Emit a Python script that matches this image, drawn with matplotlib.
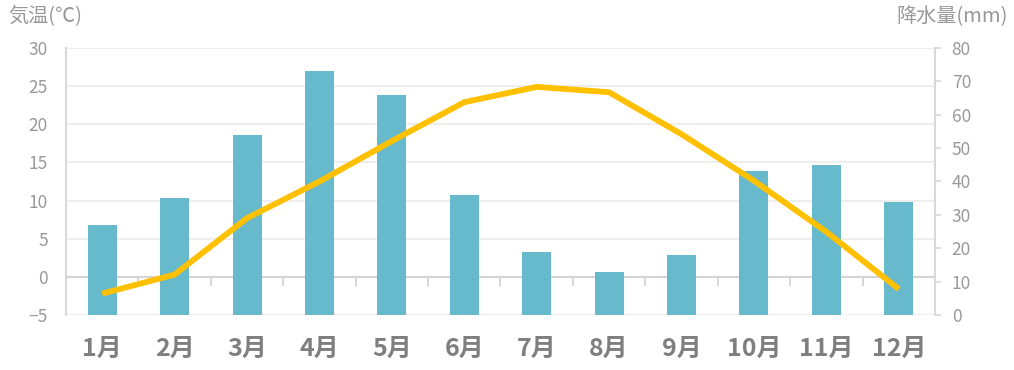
import numpy as np
import matplotlib
matplotlib.use("Agg")
import matplotlib.pyplot as plt

plt.rcParams['font.family'] = ['Noto Sans CJK JP', 'DejaVu Sans']

# data
months = ["1月", "2月", "3月", "4月", "5月", "6月",
          "7月", "8月", "9月", "10月", "11月", "12月"]
temperature = [-2.2, 0.3, 7.7, 12.5, 17.8, 22.9, 24.9, 24.2, 18.7, 12.6, 5.9, -1.6]
precipitation = [27, 35, 54, 73, 66, 36, 19, 13, 18, 43, 45, 34]

temp_ticks = [-5, 0, 5, 10, 15, 20, 25, 30]
prec_ticks = [0, 10, 20, 30, 40, 50, 60, 70, 80]

BAR_COLOR = "#67b9cc"
LINE_COLOR = "#ffc000"
TICK_GRAY = "#999999"
LABEL_GRAY = "#7f7f7f"

fig = plt.figure(figsize=(10.14, 3.70), dpi=100)
ax = fig.add_axes([66 / 1014, 1 - 315 / 370, (935 - 66) / 1014, (315 - 48) / 370])
ax2 = ax.twinx()

x = np.arange(len(months))

# temperature axis (left) with grid
ax.set_xlim(-0.5, len(months) - 0.5)
ax.set_ylim(temp_ticks[0], temp_ticks[-1])
ax.set_yticks(temp_ticks)
ax.set_yticklabels([str(t).replace("-", "\u2212") for t in temp_ticks])
ax.grid(axis="y", color="#eeeeee", linewidth=1.5)
ax.set_axisbelow(True)
ax.axhline(0, color="#d4d4d4", linewidth=1.5, zorder=1)
edges = np.arange(len(months) + 1) - 0.5
ax.plot(edges[1:-1], np.zeros(len(edges) - 2), linestyle="none", marker=3,
        markersize=6.5, color="#d4d4d4", markeredgewidth=1.3, zorder=1)

for s in ["top", "right", "bottom"]:
    ax.spines[s].set_visible(False)
ax.spines["left"].set_color("#d9d9d9")
ax.spines["left"].set_linewidth(1.5)
ax.tick_params(axis="y", length=0, pad=13, labelsize=12.5, labelcolor=TICK_GRAY)
ax.set_xticks(x)
ax.set_xticklabels(months, fontsize=18, fontweight="bold", color=LABEL_GRAY)
ax.tick_params(axis="x", length=0, pad=16)

# precipitation axis (right) with bars
ax2.bar(x, precipitation, width=0.4, color=BAR_COLOR, zorder=2)
ax2.set_ylim(prec_ticks[0], prec_ticks[-1])
ax2.set_yticks(prec_ticks)
for s in ["top", "left", "bottom"]:
    ax2.spines[s].set_visible(False)
ax2.spines["right"].set_color("#d9d9d9")
ax2.spines["right"].set_linewidth(1.5)
ax2.tick_params(axis="y", length=4, width=1.2, color="#d9d9d9", pad=8,
                labelsize=12.5, labelcolor=TICK_GRAY)

# temperature line drawn on top of the bars
ax2.plot(x, temperature, color=LINE_COLOR, linewidth=4.2, zorder=3,
         solid_capstyle="butt", transform=ax.transData)

fig.text(8 / 1014, 1 - 17 / 370, "気温(℃)", fontsize=14.5, color=TICK_GRAY,
         ha="left", va="center")
fig.text(1008 / 1014, 1 - 17 / 370, "降水量(mm)", fontsize=14.5, color=TICK_GRAY,
         ha="right", va="center")

fig.savefig("out.png", dpi=100)
